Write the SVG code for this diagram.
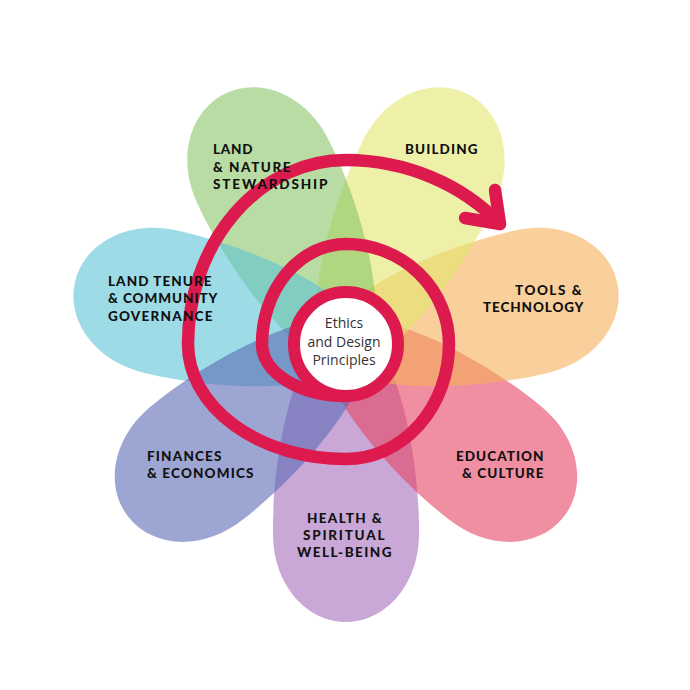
<svg xmlns="http://www.w3.org/2000/svg" width="690" height="690" viewBox="0 0 690 690">
<defs>
<style>
.petal{fill-opacity:0.6}
.lbl{font-family:Lato,"DejaVu Sans",sans-serif;font-weight:900;font-size:13.5px;fill:#111;letter-spacing:0.5px}
.mid{font-family:"Open Sans","DejaVu Sans",sans-serif;font-size:14px;fill:#333;text-anchor:middle}
.red{fill:none;stroke:#dc1a4e;stroke-width:12.5;stroke-linecap:round;stroke-linejoin:round}
</style>
<path id="pet" d="M278 0 C278 40 240 73 190 73 C100 74 -22 45 -22 0 C-22 -45 100 -74 190 -73 C240 -73 278 -40 278 0 Z"/>
</defs>
<rect width="690" height="690" fill="#fff"/>
<g id="petals">
<g id="p-health"><use href="#pet" class="petal" fill="#a56cbb" transform="translate(346,344) rotate(90)"/></g>
<g id="p-education"><use href="#pet" class="petal" fill="#e64464" transform="translate(346,344) rotate(38.57)"/></g>
<g id="p-tools"><use href="#pet" class="petal" fill="#f5af58" transform="translate(346,344) rotate(-12.86)"/></g>
<g id="p-building"><use href="#pet" class="petal" fill="#e3e66e" transform="translate(346,344) rotate(-64.29)"/></g>
<g id="p-land"><use href="#pet" class="petal" fill="#89c566" transform="translate(346,344) rotate(-115.71)"/></g>
<g id="p-tenure"><use href="#pet" class="petal" fill="#5cc3d5" transform="translate(346,344) rotate(-167.14)"/></g>
<g id="p-finances"><use href="#pet" class="petal" fill="#5c6bb4" transform="translate(346,344) rotate(141.43)"/></g>
</g>
<g id="connectors">
<path class="red" d="M346 396 A84 52 0 0 1 262 344 A84 100 0 0 1 346 244 A103 100 0 0 1 449 344 A103 115 0 0 1 346 459 A158 115 0 0 1 188 344 A158 184 0 0 1 346 160 A204 184 0 0 1 500 224"/>
<path class="red" d="M495 190 L500 224 L465 218"/>
</g>
<g id="center">
<circle cx="346" cy="344" r="52" fill="#fff" stroke="#dc1a4e" stroke-width="12"/>
<text class="mid" x="344" y="328">Ethics</text>
<text class="mid" x="344" y="347">and Design</text>
<text class="mid" x="344" y="365">Principles</text>
</g>
<g id="labels">
<g id="t-land"><text class="lbl" x="213" y="154" textLength="40" lengthAdjust="spacing">LAND</text><text class="lbl" x="213" y="172" textLength="78" lengthAdjust="spacing">&amp; NATURE</text><text class="lbl" x="213" y="189" textLength="115" lengthAdjust="spacing">STEWARDSHIP</text></g>
<g id="t-building"><text class="lbl" x="405" y="154" textLength="73" lengthAdjust="spacing">BUILDING</text></g>
<g id="t-tenure"><text class="lbl" x="108" y="286" textLength="104" lengthAdjust="spacing">LAND TENURE</text><text class="lbl" x="108" y="303" textLength="110" lengthAdjust="spacing">&amp; COMMUNITY</text><text class="lbl" x="108" y="321" textLength="105" lengthAdjust="spacing">GOVERNANCE</text></g>
<g id="t-tools"><text class="lbl" x="515" y="295" textLength="67" lengthAdjust="spacing">TOOLS &amp;</text><text class="lbl" x="483" y="312" textLength="101" lengthAdjust="spacing">TECHNOLOGY</text></g>
<g id="t-finances"><text class="lbl" x="147" y="461" textLength="75" lengthAdjust="spacing">FINANCES</text><text class="lbl" x="147" y="478" textLength="107" lengthAdjust="spacing">&amp; ECONOMICS</text></g>
<g id="t-health"><text class="lbl" x="307" y="523" textLength="75" lengthAdjust="spacing">HEALTH &amp;</text><text class="lbl" x="303" y="540" textLength="82" lengthAdjust="spacing">SPIRITUAL</text><text class="lbl" x="297" y="557" textLength="95" lengthAdjust="spacing">WELL-BEING</text></g>
<g id="t-education"><text class="lbl" x="456" y="461" textLength="88" lengthAdjust="spacing">EDUCATION</text><text class="lbl" x="462" y="478" textLength="82" lengthAdjust="spacing">&amp; CULTURE</text></g>
</g>
</svg>
